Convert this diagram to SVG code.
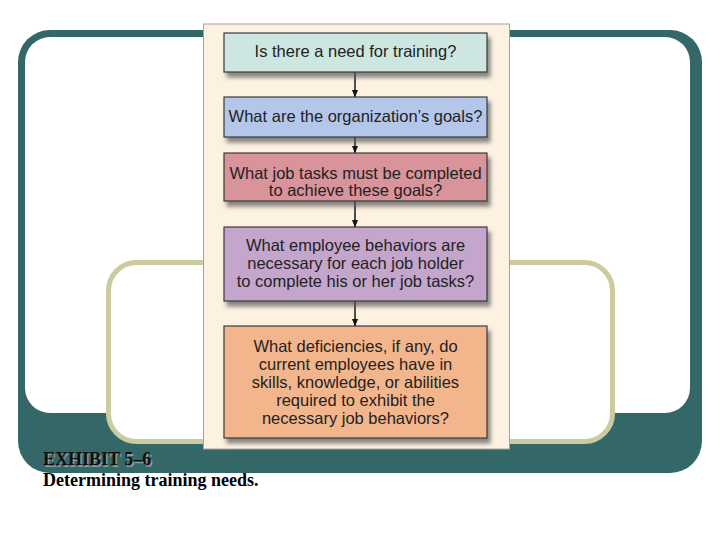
<svg xmlns="http://www.w3.org/2000/svg" width="720" height="540" viewBox="0 0 720 540">
<defs>
<style>
.box{stroke:#3a3a3a;stroke-width:1.2}
.t{font-family:"Liberation Sans",Arial,sans-serif;font-size:16.5px;fill:#222;text-anchor:middle}
.cap{font-family:"Liberation Serif","Times New Roman",serif;font-size:18px;font-weight:bold}
.con{stroke:#222;stroke-width:1.6;fill:none}
</style>
<filter id="sh" x="-10%" y="-10%" width="130%" height="140%">
<feDropShadow dx="3" dy="5" stdDeviation="2.2" flood-color="#555" flood-opacity="0.7"/>
</filter>
<marker id="ah" markerWidth="8" markerHeight="8" refX="7.5" refY="4" orient="auto" markerUnits="userSpaceOnUse">
<path d="M0,0.8 L8,4 L0,7.2 Z" fill="#111"/>
</marker>
</defs>
<rect width="720" height="540" fill="#ffffff"/>
<g id="frame">
<rect x="18" y="30" width="684" height="443" rx="32" fill="#346868"/>
<rect x="25" y="37" width="665" height="376" rx="25" fill="#ffffff"/>
<rect x="108.5" y="262.5" width="504" height="179" rx="28" fill="#ffffff" stroke="#cbcb9f" stroke-width="5"/>
</g>
<g id="panel">
<rect x="203.5" y="24" width="306" height="425" fill="#fdf2e2" stroke="#a8a39a" stroke-width="1"/>
</g>
<g id="connectors">
<line class="con" x1="355" y1="72" x2="355" y2="97" marker-end="url(#ah)"/>
<line class="con" x1="355" y1="137" x2="355" y2="153" marker-end="url(#ah)"/>
<line class="con" x1="355" y1="201" x2="355" y2="227" marker-end="url(#ah)"/>
<line class="con" x1="355" y1="301" x2="355" y2="326" marker-end="url(#ah)"/>
</g>
<g id="node1">
<rect class="box" x="224" y="33" width="263" height="39" fill="#cde6e1" filter="url(#sh)"/>
<text class="t" x="355.5" y="57">Is there a need for training?</text>
</g>
<g id="node2">
<rect class="box" x="224" y="97" width="263" height="40" fill="#b4c7ea" filter="url(#sh)"/>
<text class="t" x="355.5" y="122">What are the organization’s goals?</text>
</g>
<g id="node3">
<rect class="box" x="224" y="153" width="263" height="48" fill="#d8939b" filter="url(#sh)"/>
<text class="t" x="355.5" y="179">What job tasks must be completed</text>
<text class="t" x="355.5" y="196">to achieve these goals?</text>
</g>
<g id="node4">
<rect class="box" x="224" y="227" width="263" height="74" fill="#c4a6cd" filter="url(#sh)"/>
<text class="t" x="355.5" y="251">What employee behaviors are</text>
<text class="t" x="355.5" y="269">necessary for each job holder</text>
<text class="t" x="355.5" y="287">to complete his or her job tasks?</text>
</g>
<g id="node5">
<rect class="box" x="224" y="326" width="263" height="112" fill="#f3b68c" filter="url(#sh)"/>
<text class="t" x="355.5" y="352">What deficiencies, if any, do</text>
<text class="t" x="355.5" y="370">current employees have in</text>
<text class="t" x="355.5" y="388">skills, knowledge, or abilities</text>
<text class="t" x="355.5" y="406">required to exhibit the</text>
<text class="t" x="355.5" y="424">necessary job behaviors?</text>
</g>
<g id="caption">
<text class="cap" x="44.5" y="466.5" fill="#8a9a9a">EXHIBIT 5–6</text>
<text class="cap" x="43" y="465" fill="#111">EXHIBIT 5–6</text>
<text class="cap" x="43" y="486" fill="#000">Determining training needs.</text>
</g>
</svg>
